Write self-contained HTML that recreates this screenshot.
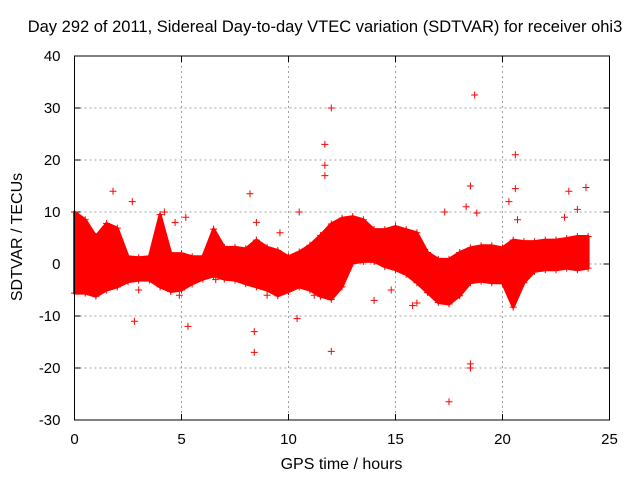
<!DOCTYPE html>
<html><head><meta charset="utf-8"><style>
body{margin:0;background:#fff}
svg{display:block;font-family:"Liberation Sans",sans-serif}
</style></head><body>
<svg id="c" width="640" height="480" viewBox="0 0 640 480"></svg>
<script>
const hours=[0,0.5,1,1.5,2,2.5,3,3.5,4,4.5,5,5.5,6,6.5,7,7.5,8,8.5,9,9.5,10,10.5,11,11.5,12,12.5,13,13.5,14,14.5,15,15.5,16,16.5,17,17.5,18,18.5,19,19.5,20,20.5,21,21.5,22,22.5,23,23.5,24];
const upperBand=[10,8.5,5.3,7.8,6.9,1.4,1.2,1.4,9.5,2,2,1.4,1.4,6.7,3.2,3.2,2.9,4.6,3.2,2.6,1.4,2.3,3.6,5.5,7.7,8.8,9.1,8.5,6.6,6.6,7.2,6.6,6,2.2,0.9,0.9,2.2,3.1,3.5,3.5,3.1,4.6,4.3,4.3,4.6,4.6,4.9,5.3,5.3];
const lowerBand=[-5.6,-5.6,-6.2,-5,-4.4,-3.4,-3.1,-3.1,-4.4,-5.3,-5,-3.8,-2.9,-2.3,-2.9,-3.1,-3.8,-4.4,-5,-6.1,-5.3,-4.4,-5,-6.2,-6.8,-4.4,0.2,0.5,0.5,-0.5,-1.1,-2,-3.6,-5.5,-7.4,-7.7,-6.1,-3.6,-3.3,-3.6,-3.6,-8.3,-3.6,-1.4,-1.1,-1.1,-0.8,-1.1,-0.8];
const outX=[1.8,2.7,2.8,4.2,4.7,5.2,5.3,8.2,8.4,8.4,8.5,9.6,10.4,10.5,11.7,11.7,11.7,12,12,14,15.8,17.5,17.3,18.3,18.5,18.5,18.5,18.7,18.8,20.3,20.6,20.6,20.7,23.1,23.5,23.9,22.9,3.0,4.9,6.6,9,11.2,14.8,16];
const outY=[14,12,-11,10,8,9,-12,13.5,-13,-17,8,6,-10.5,10,23,19,17,30,-16.8,-7,-8,-26.5,10,11,15,-19.2,-20,32.5,9.8,12,21,14.5,8.5,14,10.5,14.7,9,-5,-6,-3,-6,-6,-5,-7.5];
const xTicks=[0,5,10,15,20,25];
const yTicks=[-30,-20,-10,0,10,20,30,40];
const NS="http://www.w3.org/2000/svg";
const svg=document.getElementById('c');
const X0=74.5,X1=609.5,Y0=420,Y1=56;
const sx=v=>X0+(v-0)/25*(X1-X0);
const sy=v=>Y0-(v+30)/70*(Y0-Y1);
function mk(t,a,p){const e=document.createElementNS(NS,t);for(const k in a)e.setAttribute(k,a[k]);(p||svg).appendChild(e);return e;}
xTicks.forEach(t=>{if(t>0&&t<25){const g=mk('line',{x1:sx(t),x2:sx(t),y1:Y1,y2:Y0,stroke:'#a0a0a0','stroke-dasharray':'2,3'});

}
const tl=mk('text',{x:sx(t),y:Y0+24,'text-anchor':'middle','font-size':15,fill:'#000'});tl.textContent=t;


mk('line',{x1:sx(t),x2:sx(t),y1:Y0,y2:Y0-6,stroke:'#000'});mk('line',{x1:sx(t),x2:sx(t),y1:Y1,y2:Y1+6,stroke:'#000'});});
yTicks.forEach(t=>{if(t>-30&&t<40){const g=mk('line',{x1:X0,x2:X1,y1:sy(t),y2:sy(t),stroke:'#a0a0a0','stroke-dasharray':'2,3'});

}
const tl=mk('text',{x:X0-14,y:sy(t)+5,'text-anchor':'end','font-size':15,fill:'#000'});tl.textContent=t;


mk('line',{x1:X0,x2:X0+6,y1:sy(t),y2:sy(t),stroke:'#000'});mk('line',{x1:X1,x2:X1-6,y1:sy(t),y2:sy(t),stroke:'#000'});});
let d='';hours.forEach((h,i)=>{d+=(i?'L':'M')+sx(h)+','+sy(upperBand[i]);});
for(let i=hours.length-1;i>=0;i--)d+='L'+sx(hours[i])+','+sy(lowerBand[i]);
const band=mk('path',{d:d+'Z',fill:'#ff0000',stroke:'#ff0000','stroke-width':3,'stroke-linejoin':'round'});


function plus(x,y){const g=mk('path',{d:`M${x-3.5},${y}h7M${x},${y-3.5}v7`,stroke:'#ff0000','stroke-width':1});return g;}
hours.forEach((h,i)=>{plus(sx(h),sy(upperBand[i]));plus(sx(h),sy(lowerBand[i]));});
outX.forEach((h,i)=>{const p=plus(sx(h),sy(outY[i]));

});
const b=mk('rect',{x:X0,y:Y1,width:X1-X0,height:Y0-Y1,fill:'none',stroke:'#000','stroke-width':1});


</script>
<div style="position:absolute;left:0;top:0;width:640px;height:480px;pointer-events:none;font-family:'Liberation Sans',sans-serif">
<div style="position:absolute;top:18px;left:0;width:650px;text-align:center;font-size:16.5px;white-space:nowrap">Day 292 of 2011, Sidereal Day-to-day VTEC variation (SDTVAR) for receiver ohi3</div>
<div style="position:absolute;top:456px;left:74px;width:535px;text-align:center;font-size:16px">GPS time / hours</div>
<div style="position:absolute;left:-52px;top:228px;width:140px;text-align:center;font-size:16px;transform:rotate(-90deg)">SDTVAR / TECUs</div>
</div>
</body></html>
